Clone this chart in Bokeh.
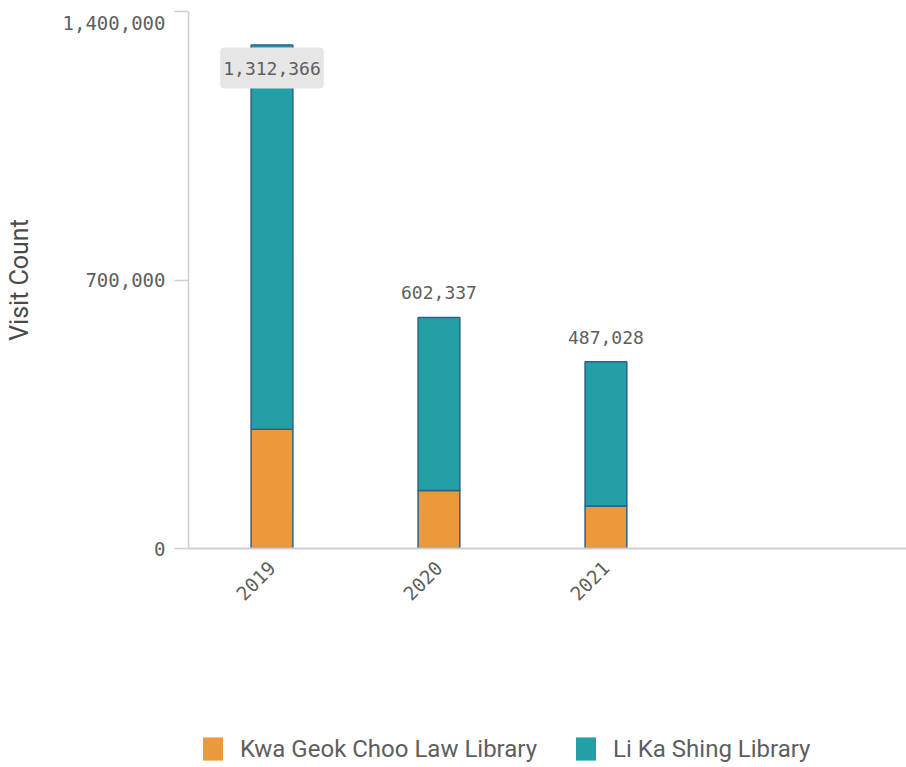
import math
from bokeh.plotting import figure
from bokeh.layouts import column
from bokeh.models import (ColumnDataSource, FixedTicker, Range1d, Label, LabelSet,
                          Legend, LegendItem, LinearAxis)
from bokeh.core.properties import value
from bokeh.embed import file_html
from bokeh.resources import INLINE

# ---- data ----
years = ["2019", "2020", "2021"]
kwa_geok_choo = [311000, 151500, 110500]
li_ka_shing = [1001366, 450837, 376528]
series_names = ["Kwa Geok Choo Law Library", "Li Ka Shing Library"]
y_ticks = [0, 700000, 1400000]

ORANGE = "#EB993A"
TEAL = "#23A0A5"
OUTLINE = "#2E5E8A"
AXIS = "#CFCFCF"
TXT = "#5E5E5E"
MONO = "DejaVu Sans Mono"
SANS = "Roboto"

xs = [i + 0.5 for i in range(len(years))]
totals = [a + b for a, b in zip(kwa_geok_choo, li_ka_shing)]
ymax = y_ticks[-1]

src = ColumnDataSource(dict(
    x=xs, kwa_top=kwa_geok_choo, li_bottom=kwa_geok_choo, li_top=totals,
))

W = 906
H1 = 640
TOP = 11
BOTTOM = 548
p = figure(width=W, height=H1, output_backend="svg", toolbar_location=None,
           x_range=Range1d(0, 4.3), y_range=Range1d(0, ymax),
           min_border_left=188, min_border_right=0, min_border_top=TOP,
           min_border_bottom=H1 - BOTTOM)
p.outline_line_color = None
p.xgrid.visible = False
p.ygrid.visible = False

bw = 0.25
p.vbar(x="x", bottom=0, top="kwa_top", width=bw, source=src,
       fill_color=ORANGE, line_color=OUTLINE, line_width=1.5)
p.vbar(x="x", bottom="li_bottom", top="li_top", width=bw, source=src,
       fill_color=TEAL, line_color=OUTLINE, line_width=1.5)

# total labels
inside = [t > 0.9 * ymax for t in totals]
above_src = ColumnDataSource(dict(
    x=[x for x, f in zip(xs, inside) if not f],
    y=[t for t, f in zip(totals, inside) if not f],
    text=[f"{t:,}" for t, f in zip(totals, inside) if not f],
))
p.add_layout(LabelSet(x="x", y="y", text="text", source=above_src,
                      text_align="center", text_baseline="bottom", y_offset=18,
                      text_font=value(MONO), text_font_size=value("18px"),
                      text_color=TXT))
for x, t, f in zip(xs, totals, inside):
    if f:
        p.add_layout(Label(x=x, y=t, text=f"{t:,}", text_align="center",
                           text_baseline="middle", y_offset=-23,
                           text_font=MONO, text_font_size="18px", text_color=TXT,
                           background_fill_color="#E6E6E6",
                           padding=dict(left=3, right=3, top=14, bottom=14),
                           border_radius=4))

# y axis: line + tick marks (inner axis)
ya = p.yaxis[0]
ya.ticker = FixedTicker(ticks=y_ticks)
ya.major_label_overrides = {v: "" for v in y_ticks}
ya.major_label_text_font_size = "0px"
ya.major_label_standoff = 0
ya.axis_line_color = AXIS
ya.axis_line_width = 1.5
ya.major_tick_line_color = AXIS
ya.major_tick_line_width = 1.5
ya.major_tick_out = 14
ya.major_tick_in = 0
ya.minor_tick_line_color = None

# y axis: labels (outer axis); the top label sits a little below its tick
frame_h = BOTTOM - TOP
shift = ymax * 11 / frame_h
label_pos = [v if v < ymax else v - shift for v in y_ticks]
yl = LinearAxis(ticker=FixedTicker(ticks=label_pos),
                major_label_overrides={pos: f"{v:,}" for pos, v in zip(label_pos, y_ticks)})
yl.axis_line_color = None
yl.major_tick_line_color = None
yl.minor_tick_line_color = None
yl.major_tick_out = 0
yl.major_tick_in = 0
yl.major_label_standoff = 9
yl.major_label_text_font = MONO
yl.major_label_text_font_size = "19px"
yl.major_label_text_color = TXT
yl.axis_label = "Visit Count"
yl.axis_label_text_font = SANS
yl.axis_label_text_font_style = "normal"
yl.axis_label_text_font_size = "25px"
yl.axis_label_text_color = "#4A4A4A"
yl.axis_label_standoff = 26
p.add_layout(yl, "left")

# x axis
xa = p.xaxis[0]
xa.ticker = FixedTicker(ticks=xs)
xa.major_label_overrides = {x: y for x, y in zip(xs, years)}
xa.major_label_orientation = math.pi / 4
xa.axis_line_color = AXIS
xa.axis_line_width = 2
xa.major_tick_line_color = None
xa.minor_tick_line_color = None
xa.major_label_standoff = 10
xa.major_label_text_font = MONO
xa.major_label_text_font_size = "19px"
xa.major_label_text_color = TXT

# legend (separate strip below the chart; frames are aligned by the column)
H2 = 767 - H1
leg = figure(width=W, height=H2, output_backend="svg", toolbar_location=None,
             x_range=Range1d(0, 1), y_range=Range1d(0, 1),
             min_border_left=188, min_border_right=0, min_border_top=0,
             min_border_bottom=0, outline_line_color=None)
leg.axis.visible = False
leg.grid.visible = False
colors = [ORANGE, TEAL]
items = []
for name, c in zip(series_names, colors):
    # proxy glyph placed outside the visible range, used only for the legend swatch
    r = leg.rect(x=[-5], y=[-5], width=1, height=1, fill_color=c, line_color=None)
    items.append(LegendItem(label=name, renderers=[r]))
legend = Legend(items=items, orientation="horizontal", location=(12, 4),
                padding=0, margin=0, spacing=36, label_standoff=15,
                glyph_width=25, glyph_height=29, label_height=29,
                border_line_color=None, background_fill_alpha=0,
                label_text_font=SANS, label_text_font_size="24px",
                label_text_color=TXT, label_text_baseline="middle")
leg.add_layout(legend, "center")

layout = column(p, leg, spacing=0)
open("out.html", "w").write(file_html(layout, INLINE))
